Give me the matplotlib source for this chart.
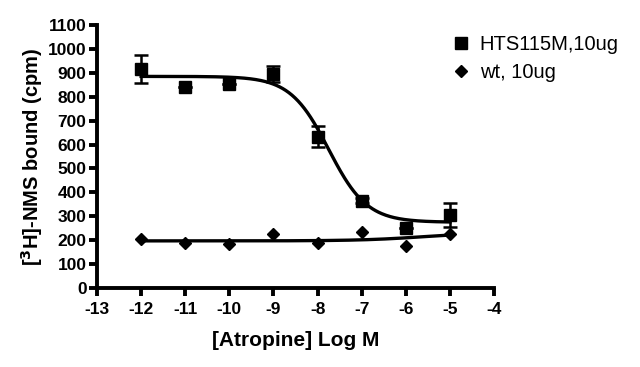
import numpy as np
import matplotlib
matplotlib.use("Agg")
import matplotlib.pyplot as plt
from matplotlib.lines import Line2D

plt.rcParams['font.family'] = ['Liberation Sans', 'DejaVu Sans']

# Data
log_conc = [-12, -11, -10, -9, -8, -7, -6, -5]
hts_vals = [915, 842, 852, 895, 633, 365, 250, 305]
hts_err = [58, 0, 0, 32, 45, 10, 0, 52]
wt_vals = [205, 188, 182, 225, 188, 233, 175, 225]

# Fit parameters (sigmoidal dose-response)
hts_fit = dict(bottom=275, top=885, logec50=-7.75, hill=-1.0)
wt_fit = dict(bottom=197, top=232, logec50=-5.6, hill=0.6)

series_names = ["HTS115M,10ug", "wt, 10ug"]
xticks = list(range(-13, -3))
yticks = list(range(0, 1101, 100))

def sigmoid(x, bottom, top, logec50, hill):
    return bottom + (top - bottom) / (1 + 10 ** ((logec50 - x) * hill))

fig = plt.figure(figsize=(6.4, 3.67), dpi=100)
ax = fig.add_axes([0.1516, 0.2153, 0.6204, 0.7166])

xs = np.linspace(-12, -5, 300)
ax.plot(xs, sigmoid(xs, **hts_fit), color='black', lw=2.4, zorder=2)
ax.plot(xs, sigmoid(xs, **wt_fit), color='black', lw=2.4, zorder=2)

ax.errorbar(log_conc, hts_vals, yerr=hts_err, fmt='s', color='black', ms=9,
            capsize=5, elinewidth=1.8, capthick=1.8, zorder=3)
ax.plot(log_conc, wt_vals, 'D', color='black', ms=6.5, zorder=3)

ax.set_xlim(-13, -4)
ax.set_ylim(0, 1100)
ax.set_xticks(xticks)
ax.set_yticks(yticks)
ax.set_xticklabels([str(t) for t in xticks], fontsize=12.5, fontweight='heavy')
ax.set_yticklabels([str(t) for t in yticks], fontsize=12.5, fontweight='heavy')
for s in ['top', 'right']:
    ax.spines[s].set_visible(False)
for s in ['left', 'bottom']:
    ax.spines[s].set_linewidth(2.8)
ax.tick_params(axis='both', direction='out', length=6, width=2.8, pad=1.5)
ax.tick_params(axis='x', pad=4)

ax.set_xlabel("[Atropine] Log M", fontsize=15, fontweight='bold', labelpad=10)
ax.set_ylabel("[$\\mathbf{^3}$H]-NMS bound (cpm)", fontsize=14.5, fontweight='bold', labelpad=2)

handles = [Line2D([], [], marker='s', color='black', ls='none', ms=8),
           Line2D([], [], marker='D', color='black', ls='none', ms=6)]
fig.legend(handles, series_names, loc='upper left', bbox_to_anchor=(0.677, 0.955),
           frameon=False, fontsize=14.5, handletextpad=0.4, labelspacing=0.45,
           handlelength=1.0)

fig.savefig("out.png", dpi=100)
